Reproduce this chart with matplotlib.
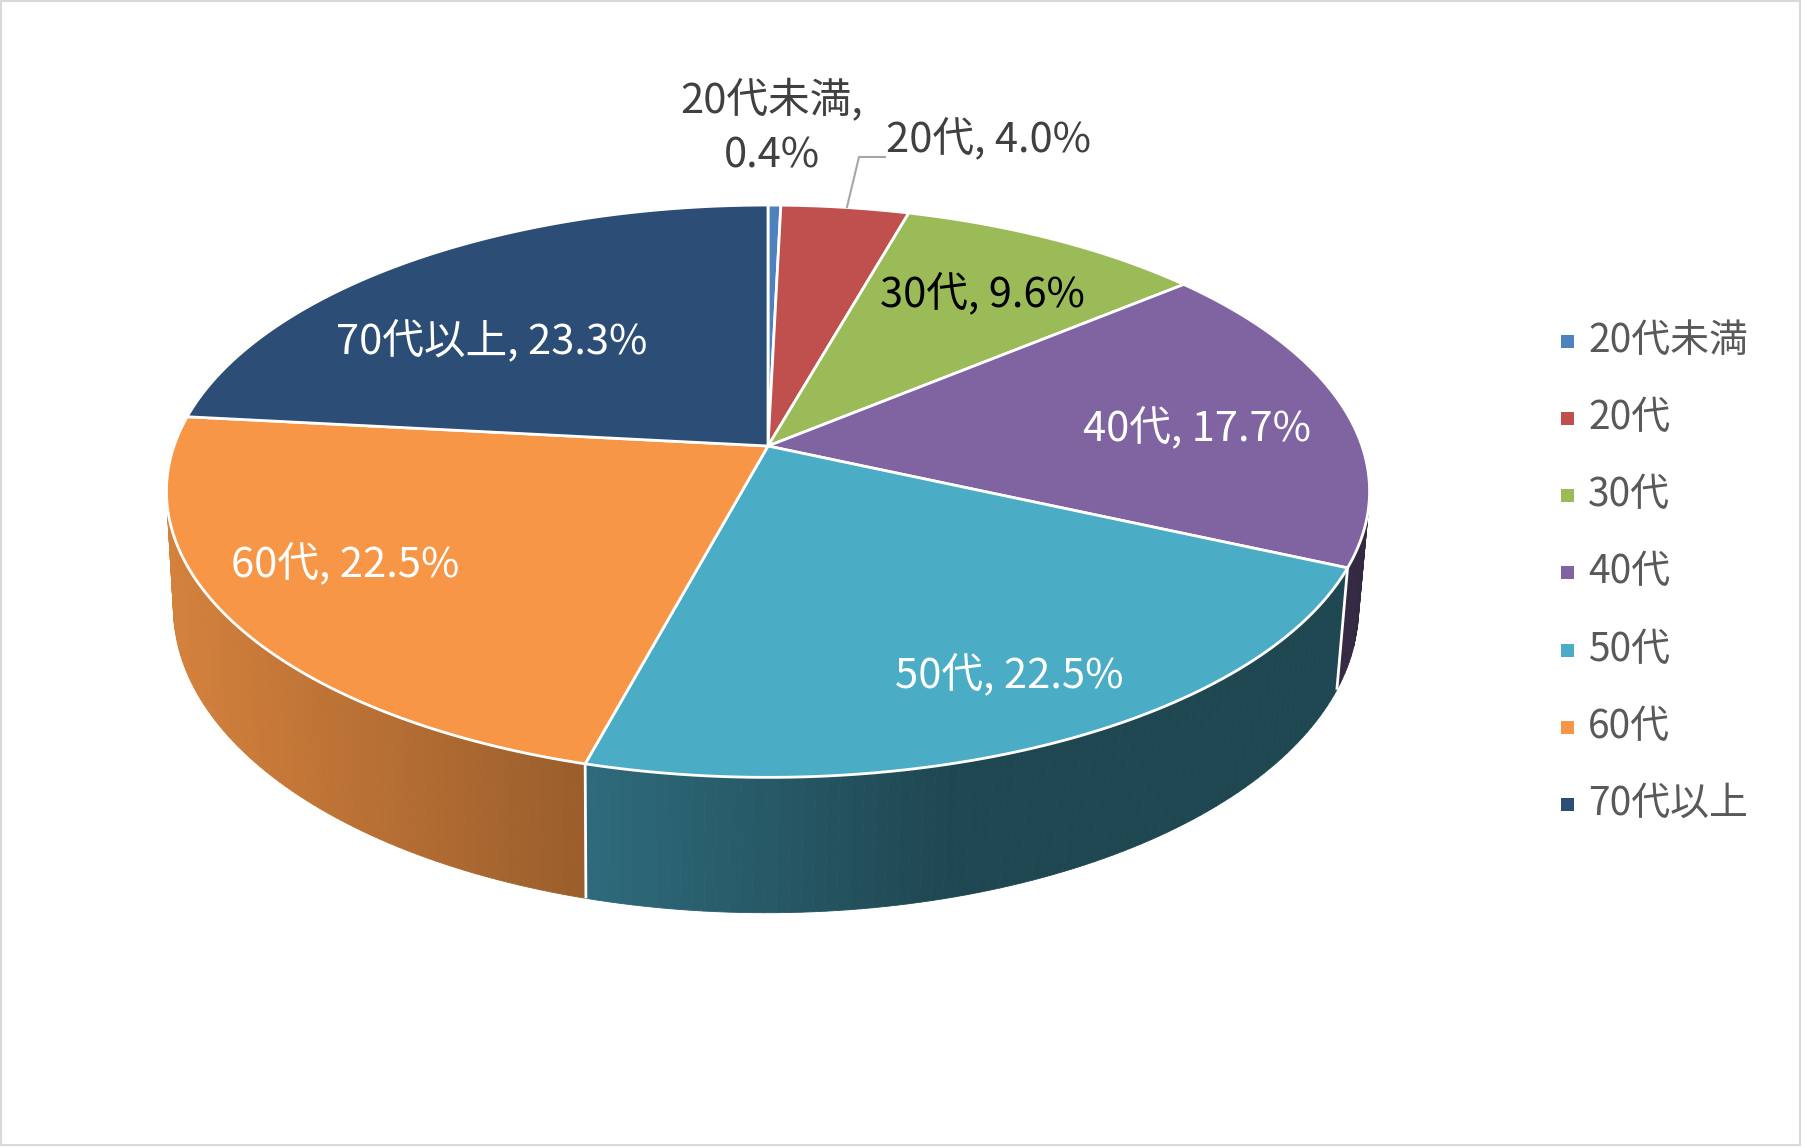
import numpy as np
import matplotlib.pyplot as plt
from matplotlib.patches import Polygon, Rectangle
import matplotlib.colors as mcolors

plt.rcParams['font.family'] = ['Noto Sans CJK JP', 'DejaVu Sans']

# データ
labels = ['20代未満', '20代', '30代', '40代', '50代', '60代', '70代以上']
values = [0.4, 4.0, 9.6, 17.7, 22.5, 22.5, 23.3]
colors = ['#4f81bd', '#c0504d', '#9bbb59', '#8064a2', '#4bacc6', '#f79646', '#2c4d75']
label_colors = ['#404040', '#404040', '#000000', 'white', 'white', 'white', 'white']

W, H = 1802, 1147
fig = plt.figure(figsize=(W / 100, H / 100), dpi=100)
ax = fig.add_axes([0, 0, 1, 1])
ax.set_xlim(0, W)
ax.set_ylim(H, 0)
ax.axis('off')

# 3D円グラフの投影パラメータ
cx, cy = 768, 446
A, B = 594, 279
p = 0.158
depth = 114
s_bot = 0.985
cx_bot = cx - 2


def top_pt(th):
    X = np.sin(th)
    Y = -np.cos(th)
    w = 1 - p * Y
    return cx + A * X / w, cy + B * Y / w


def bot_pt(th):
    X = np.sin(th)
    Y = -np.cos(th)
    w = 1 - p * Y
    return cx_bot + s_bot * A * X / w, cy + B * Y / w + depth / w


def shade(c, x):
    f = np.clip(0.86 - (x - 172) * 0.000575, 0.41, 0.86)
    r, g, b = mcolors.to_rgb(c)
    return (r * f, g * f, b * f)


total = sum(values)
bounds = np.concatenate([[0], np.cumsum(values)]) / total * 2 * np.pi

# 側面
quads = []
for i, c in enumerate(colors):
    t0, t1 = bounds[i], bounds[i + 1]
    lo = max(t0, np.pi / 2 - 0.4)
    hi = min(t1, 3 * np.pi / 2 + 0.4)
    if hi <= lo:
        continue
    n = max(2, int(np.degrees(hi - lo) / 1.0))
    ts = np.linspace(lo, hi, n + 1)
    for a, b in zip(ts[:-1], ts[1:]):
        pts = [top_pt(a), top_pt(b), bot_pt(b), bot_pt(a)]
        xm = np.mean([q[0] for q in pts])
        col = shade(c, xm)
        quads.append((-np.cos((a + b) / 2), pts, col))

quads.sort(key=lambda q: q[0])
for _, pts, col in quads:
    ax.add_patch(Polygon(pts, closed=True, facecolor=col, edgecolor=col, lw=0.6))

# 側面の境界線
for t in bounds[1:-1]:
    if np.pi / 2 + 0.1 < t < 3 * np.pi / 2 - 0.1:
        (x0, y0), (x1, y1) = top_pt(t), bot_pt(t)
        ax.plot([x0, x1], [y0, y1], color='white', lw=2.0, solid_capstyle='butt')

# 上面
for i, c in enumerate(colors):
    t0, t1 = bounds[i], bounds[i + 1]
    ts = np.linspace(t0, t1, max(3, int(np.degrees(t1 - t0) * 2)))
    pts = [(cx, cy)] + [top_pt(t) for t in ts]
    ax.add_patch(Polygon(pts, closed=True, facecolor=c, edgecolor='white',
                         lw=2.0, joinstyle='round'))

# データラベル
label_pos = [(772, 128), (989, 140), (982, 295), (1197, 429),
             (1009, 676), (345, 565), (492, 342)]
for i, (lab, v) in enumerate(zip(labels, values)):
    if i == 0:
        txt = f'{lab},\n{v:.1f}%'
    else:
        txt = f'{lab}, {v:.1f}%'
    x, y = label_pos[i]
    ax.text(x, y, txt, ha='center', va='center', fontsize=30,
            color=label_colors[i], linespacing=1.42)

# 引き出し線
ax.plot([847, 859, 885], [207, 157, 157], color='#a6a6a6', lw=1.5)

# 凡例
leg_y = [341, 418, 495, 572, 650, 727, 804]
for lab, c, y in zip(labels, colors, leg_y):
    ax.add_patch(Rectangle((1561, y - 6.5), 13, 13, facecolor=c, edgecolor='none'))
    ax.text(1588, y, lab, ha='left', va='center', fontsize=28, color='#595959')

# 枠
ax.add_patch(Rectangle((1, 1), W - 3, H - 3, fill=False, edgecolor='#d9d9d9', lw=1.5))

fig.savefig('out.png', dpi=100)
